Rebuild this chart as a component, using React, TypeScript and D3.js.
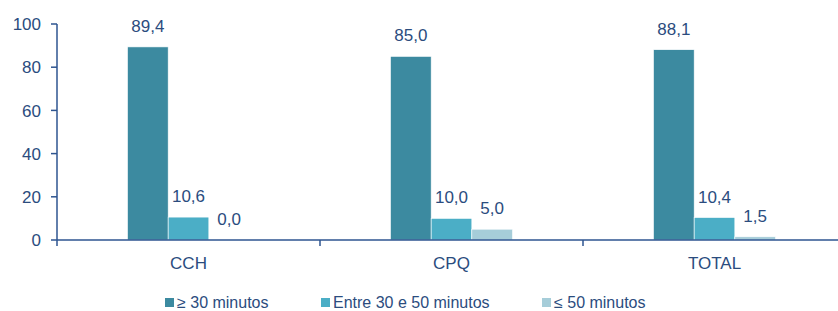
import React from "react";
import * as d3 from "d3";

const categories = ["CCH", "CPQ", "TOTAL"];
const seriesNames = ["≥ 30 minutos", "Entre 30 e 50 minutos", "≤ 50 minutos"];
const series1 = [89.4, 85.0, 88.1];
const series2 = [10.6, 10.0, 10.4];
const series3 = [0.0, 5.0, 1.5];
const yTicks = [0, 20, 40, 60, 80, 100];
const colors = ["#3C8AA0", "#4BAEC6", "#A6CDD9"];

const W = 838;
const H = 311;
const textColor = "#2B4C7E";
const axisColor = "#2E5590";
const font = "'Liberation Sans', Arial, sans-serif";

export default function App() {
  const left = 57;
  const right = 846;
  const top = 24;
  const bottom = 240;
  const x = d3.scaleBand<string>().domain(categories).range([left, right]).paddingInner(0).paddingOuter(0);
  const y = d3.scaleLinear().domain([0, 100]).range([bottom, top]);
  const groupW = 122;
  const inner = d3.scaleBand<number>().domain([0, 1, 2]).range([0, groupW]).padding(0);
  const all = [series1, series2, series3];
  const fmt = (v: number) => v.toFixed(1).replace(".", ",");
  const legendX = [165, 321, 542];

  return (
    <svg width={W} height={H} style={{ position: "absolute", left: 0, top: 0 }} fontFamily={font}>
      <rect x={0} y={0} width={W} height={H} fill="#fff" />
      {categories.map((c, ci) => {
        const gx = (x(c) as number) + (x.bandwidth() - groupW) / 2;
        return (
          <g key={c}>
            {all.map((s, si) => {
              const v = s[ci];
              const bx = gx + (inner(si) as number);
              const bw = inner.bandwidth();
              return (
                <g key={si}>
                  <rect x={bx} y={y(v)} width={bw} height={bottom - y(v)} fill={colors[si]} stroke="#fff" strokeWidth={0.6} />
                  <text x={bx + bw / 2} y={y(v) - 15} textAnchor="middle" fontSize={17} fill={textColor}>
                    {fmt(v)}
                  </text>
                </g>
              );
            })}
            <text x={(x(c) as number) + x.bandwidth() / 2} y={269} textAnchor="middle" fontSize={17} fill={textColor}>
              {c}
            </text>
          </g>
        );
      })}
      {/* y axis */}
      <line x1={left} x2={left} y1={top} y2={246} stroke={axisColor} strokeWidth={1.5} />
      {yTicks.map((t) => (
        <g key={t}>
          <line x1={51} x2={left} y1={y(t)} y2={y(t)} stroke={axisColor} strokeWidth={1.5} />
          <text x={41} y={y(t)} dy="0.36em" textAnchor="end" fontSize={17} fill={textColor}>
            {t}
          </text>
        </g>
      ))}
      {/* x axis */}
      <line x1={left} x2={right} y1={bottom} y2={bottom} stroke={axisColor} strokeWidth={1.5} />
      {categories.slice(1).map((c) => (
        <line key={c} x1={x(c) as number} x2={x(c) as number} y1={bottom} y2={246} stroke={axisColor} strokeWidth={1.5} />
      ))}
      {/* legend */}
      {seriesNames.map((n, i) => (
        <g key={n}>
          <rect x={legendX[i]} y={298} width={9} height={9} fill={colors[i]} />
          <text x={legendX[i] + 12} y={308} fontSize={16} fill={textColor}>
            {n}
          </text>
        </g>
      ))}
    </svg>
  );
}
